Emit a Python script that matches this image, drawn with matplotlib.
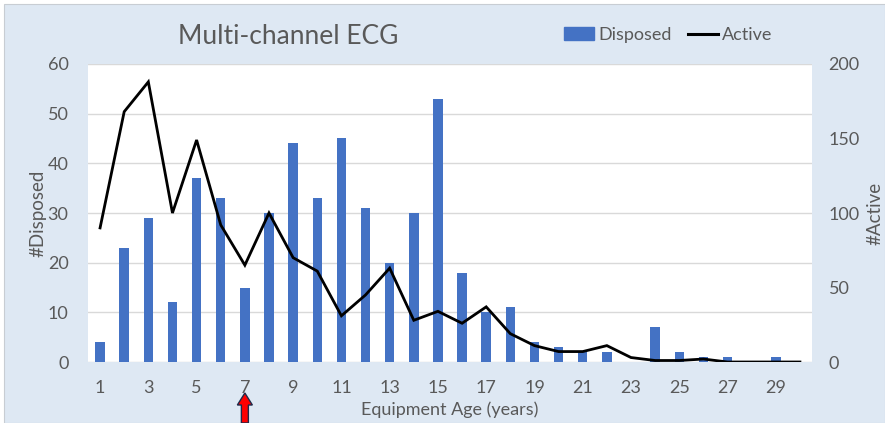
import matplotlib
matplotlib.use("Agg")
import matplotlib.pyplot as plt
from matplotlib.patches import Rectangle, FancyArrow
from matplotlib.lines import Line2D
from matplotlib.patches import Patch

plt.rcParams['font.family'] = ['Lato', 'DejaVu Sans']

# ---- data ----
ages = list(range(1, 31))
disposed = [4, 23, 29, 12, 37, 33, 15, 30, 44, 33,
            45, 31, 20, 30, 53, 18, 10, 11, 4, 3,
            2, 2, 0, 7, 2, 1, 1, 0, 1, 0]
active = [90, 168, 188, 100, 149, 92, 65, 100, 70, 61,
          31, 45, 63, 28, 34, 26, 37, 19, 11, 7,
          7, 11, 3, 1, 1, 2, 0, 0, 0, 0]
xticks = list(range(1, 30, 2))
left_ticks = [0, 10, 20, 30, 40, 50, 60]
right_ticks = [0, 50, 100, 150, 200]
arrow_age = 7

title = "Multi-channel ECG"
bar_label = "Disposed"
line_label = "Active"
xlabel = "Equipment Age (years)"
ylabel_left = "#Disposed"
ylabel_right = "#Active"

BG = '#DEE8F3'
BAR = '#4472C4'
TXT = '#595959'
GRID = '#D9D9D9'

W, H = 885, 423
fig = plt.figure(figsize=(W / 100, H / 100), dpi=100, facecolor='white')
# background panel
fig.patches.append(Rectangle((4 / W, 0), 1 - 4 / W, 1 - 4 / H, transform=fig.transFigure,
                             facecolor=BG, edgecolor='#C8CDD3', linewidth=0.8, zorder=-10))

ax = fig.add_axes([88 / W, 1 - 362 / H, (812 - 88) / W, (362 - 64) / H])
ax.set_facecolor('white')
ax.set_zorder(1)
ax.bar(ages, disposed, width=0.39, color=BAR, zorder=2)
ax.set_xlim(0.5, 30.5)
ax.set_ylim(0, 60)
ax.set_yticks(left_ticks)
ax.set_xticks(xticks)
ax.yaxis.grid(True, color=GRID, linewidth=1.0, zorder=0)
ax.set_axisbelow(True)
for s in ax.spines.values():
    s.set_visible(False)
ax.tick_params(axis='both', length=0, labelsize=13, labelcolor=TXT)
ax.tick_params(axis='x', pad=13)
ax.tick_params(axis='y', pad=14)
ax.set_xlabel(xlabel, fontsize=13, color=TXT, labelpad=4)
ax.set_ylabel(ylabel_left, fontsize=13.5, color=TXT, labelpad=1)

ax2 = ax.twinx()
ax2.plot(ages, active, color='black', linewidth=2.0, zorder=3, solid_joinstyle='miter')
ax2.set_ylim(0, 200)
ax2.set_yticks(right_ticks)
for s in ax2.spines.values():
    s.set_visible(False)
ax2.tick_params(axis='y', length=0, labelsize=13, labelcolor=TXT, pad=12)
ax2.set_ylabel(ylabel_right, fontsize=13.5, color=TXT, labelpad=5, rotation=90)

fig.text(288 / W, 1 - 36 / H, title, fontsize=19, color=TXT, ha='center', va='center')

handles = [Patch(facecolor=BAR, edgecolor=BAR),
           Line2D([0], [0], color='black', linewidth=2.2)]
leg = fig.legend(handles, [bar_label, line_label], loc='center',
                 bbox_to_anchor=(668 / W, 1 - 35 / H), ncol=2, frameon=False,
                 fontsize=13, handlelength=1.7, handletextpad=0.2, columnspacing=0.9,
                 labelcolor=TXT)

# red arrow under x = arrow_age
fig.canvas.draw()
xa = ax.transData.transform((arrow_age, 0))[0]
arr = FancyArrow(xa, 0, 0, H - 393, width=7, head_width=15, head_length=12,
                 length_includes_head=True, transform=None,
                 facecolor='#FF0000', edgecolor='#1F2A4A', linewidth=1.0, zorder=20)
fig.patches.append(arr)

fig.savefig('out.png', dpi=100, facecolor=fig.get_facecolor())
